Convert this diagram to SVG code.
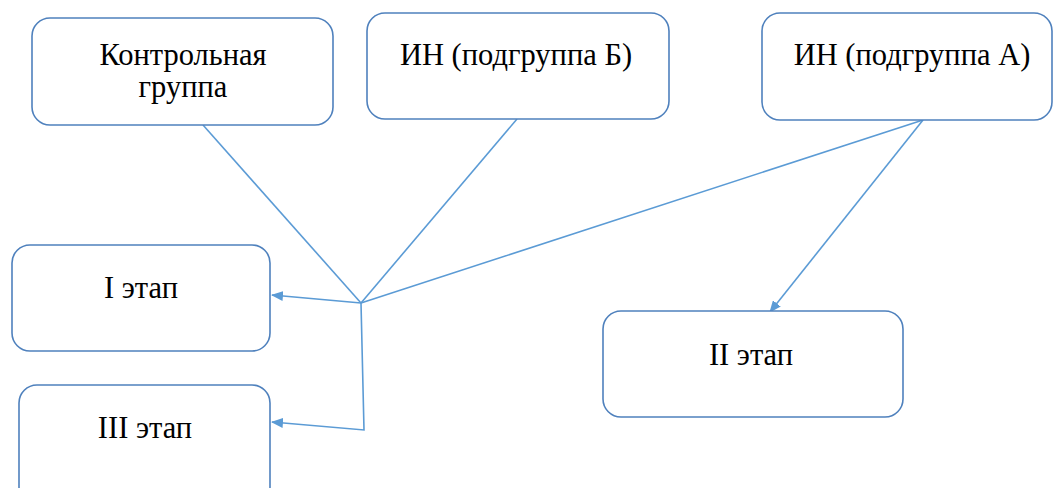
<svg xmlns="http://www.w3.org/2000/svg" width="1053" height="488" viewBox="0 0 1053 488">
<defs>
<style>
.box{fill:#fff;stroke:#4f81bd;stroke-width:1.6}
.c{fill:none;stroke:#5b9bd5;stroke-width:1.6}
</style>
<marker id="ah" markerWidth="12" markerHeight="10" refX="11" refY="5" orient="auto" markerUnits="userSpaceOnUse">
<path d="M0,0 L12,5 L0,10 Z" fill="#5b9bd5"/>
</marker>
</defs>
<rect width="1053" height="488" fill="#fff"/>
<g id="connectors">
<polyline class="c" points="203,125 361,303"/>
<polyline class="c" points="517,119 361,303"/>
<polyline class="c" points="923,120 361,303"/>
<line class="c" x1="361" y1="303" x2="272" y2="295" marker-end="url(#ah)"/>
<polyline class="c" points="361,303 364,430 272,422" marker-end="url(#ah)"/>
<line class="c" x1="923" y1="120" x2="770" y2="312" marker-end="url(#ah)"/>
</g>
<g font-family="Liberation Serif, Times New Roman, serif" font-size="30.5" fill="#000" text-anchor="middle">
<g id="node-control">
<rect class="box" x="32" y="18" width="301" height="107" rx="18"/>
<text x="183" y="65">Контрольная</text>
<text x="183" y="97">группа</text>
</g>
<g id="node-b">
<rect class="box" x="367" y="13" width="302" height="106" rx="18"/>
<text x="516" y="65">ИН (подгруппа Б)</text>
</g>
<g id="node-a">
<rect class="box" x="762" y="13" width="290" height="107" rx="18"/>
<text x="912" y="65">ИН (подгруппа А)</text>
</g>
<g id="node-1">
<rect class="box" x="12" y="245" width="258" height="106" rx="18"/>
<text x="141" y="298">I этап</text>
</g>
<g id="node-3">
<rect class="box" x="19" y="385" width="251" height="120" rx="18"/>
<text x="145" y="438">III этап</text>
</g>
<g id="node-2">
<rect class="box" x="603" y="311" width="300" height="106" rx="18"/>
<text x="751" y="365">II этап</text>
</g>
</g>
</svg>
